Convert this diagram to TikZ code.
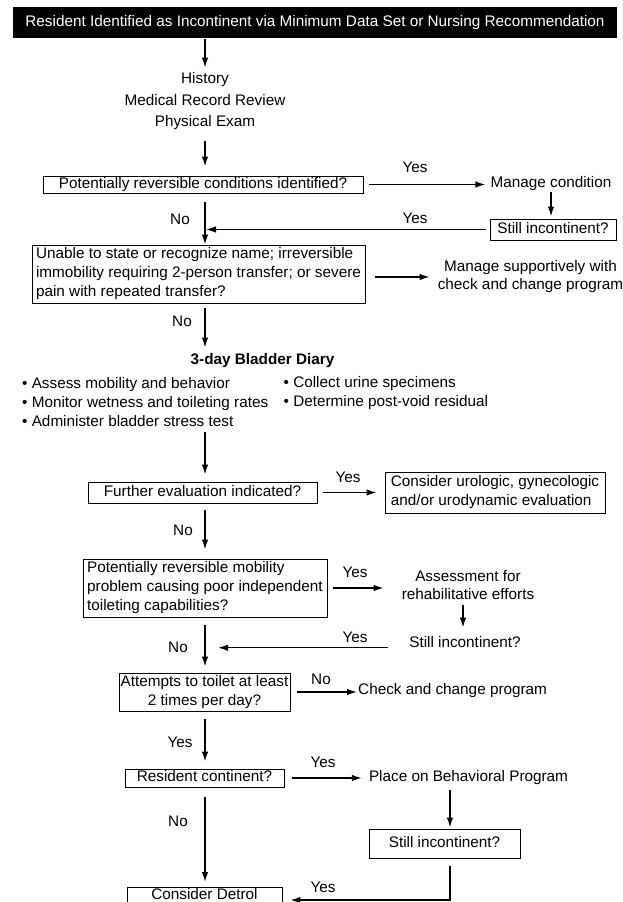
\documentclass[tikz,border=0pt]{standalone}
\usepackage{fontspec}
\setmainfont{Liberation Sans}
\usetikzlibrary{arrows.meta}
\newcommand{\fs}{\fontsize{15.3}{19}\selectfont}
\begin{document}
\begin{tikzpicture}[x=1pt,y=-1pt,
  tx/.style={font=\fs, inner sep=0pt, text height=11pt, text depth=3.5pt},
  mtx/.style={font=\fs, inner sep=0pt},
  bx/.style={tx, draw, line width=0.9pt, inner xsep=4pt},
  bxm/.style={mtx, draw, line width=0.9pt},
  arr/.style={line width=1.4pt, -{Latex[length=10pt,width=6.5pt]}},
]
\fill[white] (0,0) rectangle (622,902);
\clip (0,0) rectangle (622,902);

% nodes
\node[tx, fill=black, text=white, minimum width=604pt, minimum height=31pt] (top) at (315,22.5) {Resident Identified as Incontinent via Minimum Data Set or Nursing Recommendation};
\node[mtx, font=\fontsize{15.3}{21.5}\selectfont, align=center] (hist) at (205,101.5) {History\\Medical Record Review\\Physical Exam};
\node[bx, minimum width=320pt, minimum height=17pt] (q1) at (203,184.5) {Potentially reversible conditions identified?};
\node[tx] (mc) at (551,184) {Manage condition};
\node[bx, minimum width=126pt, minimum height=21pt] (s1) at (553,229.5) {Still incontinent?};
\node[bxm, align=left, minimum width=333pt, minimum height=58pt] (q2) at (198.5,274) {Unable to state or recognize name; irreversible\\immobility requiring 2-person transfer; or severe\\pain with repeated transfer?};
\node[mtx, align=center, font=\fontsize{15.3}{18}\selectfont] (ms) at (530.5,277) {Manage supportively with\\check and change program};
\node[tx, font=\fs\bfseries] (diary) at (262.5,361) {3-day Bladder Diary};
\node[mtx, align=left, anchor=west] (bl) at (22,402) {• Assess mobility and behavior\\• Monitor wetness and toileting rates\\• Administer bladder stress test};
\node[mtx, align=left, anchor=west] (br) at (283.5,393) {• Collect urine specimens\\• Determine post-void residual};
\node[bx, minimum width=229pt, minimum height=21pt] (q3) at (202.5,492.5) {Further evaluation indicated?};
\node[bxm, align=left, minimum width=220pt, minimum height=41pt] (cons) at (495,492.5) {Consider urologic, gynecologic\\and/or urodynamic evaluation};
\node[bxm, align=left, minimum width=244pt, minimum height=58pt] (q4) at (205,588) {Potentially reversible mobility\\problem causing poor independent\\toileting capabilities?};
\node[mtx, align=center, font=\fontsize{15.3}{18}\selectfont] (ass) at (468,585) {Assessment for\\rehabilitative efforts};
\node[tx] (s2) at (465,644) {Still incontinent?};
\node[bxm, align=center, minimum width=171pt, minimum height=38pt, inner xsep=1pt] (q5) at (204.5,692) {Attempts to toilet at least\\2 times per day?};
\node[tx, anchor=west] (chk) at (358,691) {Check and change program};
\node[bx, minimum width=159pt, minimum height=18pt] (q6) at (204.5,778) {Resident continent?};
\node[tx] (place) at (468.5,778) {Place on Behavioral Program};
\node[bx, minimum width=151pt, minimum height=29pt] (s3) at (444.5,843.5) {Still incontinent?};
\node[bx, anchor=north, minimum width=155pt, inner ysep=0.75pt] (det) at (204.5,887) {Consider Detrol};

% labels
\node[tx] (l1) at (415,169) {Yes};
\node[tx] (l2) at (415,220) {Yes};
\node[tx] (l3) at (180,221) {No};
\node[tx] (l4) at (182,323) {No};
\node[tx] (l5) at (348,479) {Yes};
\node[tx] (l6) at (183,532) {No};
\node[tx] (l7) at (355,574) {Yes};
\node[tx] (l8) at (355,639) {Yes};
\node[tx] (l9) at (178,649) {No};
\node[tx] (l10) at (321,681) {No};
\node[tx] (l11) at (180,744) {Yes};
\node[tx] (l12) at (323,764) {Yes};
\node[tx] (l13) at (178,823) {No};
\node[tx] (l14) at (323,889) {Yes};

% connectors
\coordinate (col) at (205,0);
\coordinate (c2) at (463,0);
\coordinate (c3) at (450,0);
\coordinate (turn) at (0,900);
\draw[arr, shorten <=1pt, shorten >=5pt] (top.south -| col) -- (hist.north -| col);
\draw[arr, shorten <=11pt, shorten >=9pt] (hist.south -| col) -- (q1.north -| col);
\draw[arr, shorten <=9pt] (q1.south -| col) -- (q2.north -| col);
\draw[arr, shorten <=5pt, shorten >=6pt] (q2.south -| col) -- (diary.north -| col);
\draw[arr, shorten <=5pt, shorten >=7pt] (bl.south -| col) -- (q3.north -| col);
\draw[arr, shorten <=7pt, shorten >=9pt] (q3.south -| col) -- (q4.north -| col);
\draw[arr, shorten <=8pt, shorten >=6pt] (q4.south -| col) -- (q5.north -| col);
\draw[arr, shorten <=8pt, shorten >=7pt] (q5.south -| col) -- (q6.north -| col);
\draw[arr, shorten <=10pt, shorten >=5pt] (q6.south -| col) -- (det.north -| col);

\draw[arr, shorten <=6pt, shorten >=5pt] (q1.east) -- (q1.east -| mc.west);
\draw[arr, shorten <=1pt, shorten >=2pt] (mc.south) -- (mc.south |- s1.north);
\draw[arr, shorten <=4pt, shorten >=1pt] (s1.west) -- (s1.west -| col);
\draw[arr, shorten <=10pt, shorten >=8pt] (q2.east |- ms.west) -- (ms.west);
\draw[arr, shorten <=6pt, shorten >=8pt] (q3.east) -- (cons.west);
\draw[arr, shorten <=6pt, shorten >=18pt] (q4.east) -- (q4.east -| ass.west);
\draw[arr, shorten <=5pt, shorten >=9pt] (ass.south -| c2) -- (s2.north -| c2);
\draw[arr, shorten <=21pt, shorten >=13pt] (s2.base west) -- (s2.base west -| col);
\draw[arr, shorten <=7pt, shorten >=1pt] (q5.east) -- (q5.east -| chk.west);
\draw[arr, shorten <=8pt, shorten >=7pt] (q6.east) -- (q6.east -| place.west);
\draw[arr, shorten <=5pt, shorten >=1pt] (place.south -| c3) -- (s3.north -| c3);
\draw[arr, shorten <=8pt, shorten >=8pt] (s3.south -| c3) |- (turn -| det.east);
\end{tikzpicture}
\end{document}
